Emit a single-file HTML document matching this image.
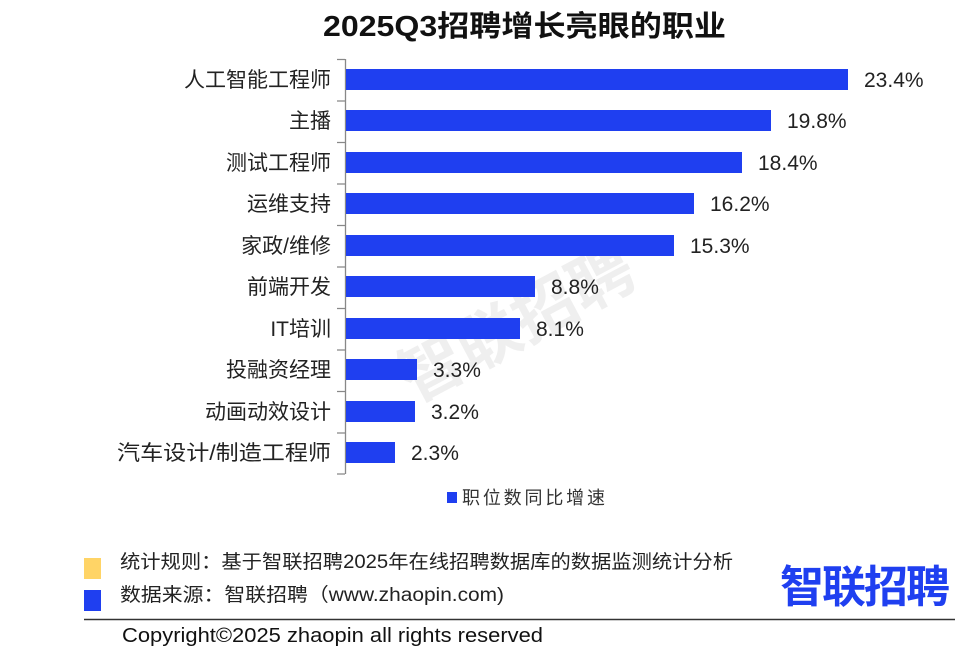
<!DOCTYPE html>
<html><head><meta charset="utf-8"><style>
body{margin:0;background:#fff;width:973px;height:658px;overflow:hidden;position:relative;font-family:"Liberation Sans","Noto Sans CJK SC",sans-serif;color:#222}
</style></head><body>
<svg width="973" height="658" style="position:absolute;left:0;top:0" font-family="Liberation Sans, Noto Sans CJK SC, sans-serif">
<text x="323" y="36" font-size="29" font-weight="bold" fill="#111" textLength="403" lengthAdjust="spacingAndGlyphs">2025Q3招聘增长亮眼的职业</text>
<text x="520" y="345" font-size="64" font-weight="bold" fill="#000" opacity="0.06" transform="rotate(-28 520 330)" text-anchor="middle">智联招聘</text>
<g stroke="#888" stroke-width="1.3" fill="none">
<path d="M345.5 59V474"/>
<path d="M337 59.5H345M337 101H345M337 142.5H345M337 184H345M337 225.5H345M337 267H345M337 308.5H345M337 350H345M337 391.5H345M337 433H345M337 474H345"/>
</g>
<g fill="#1f3ff0">
<rect x="346" y="69" width="502" height="21"/>
<rect x="346" y="110" width="425" height="21"/>
<rect x="346" y="152" width="396" height="21"/>
<rect x="346" y="193" width="348" height="21"/>
<rect x="346" y="235" width="328" height="21"/>
<rect x="346" y="276" width="189" height="21"/>
<rect x="346" y="318" width="174" height="21"/>
<rect x="346" y="359" width="71" height="21"/>
<rect x="346" y="401" width="69" height="21"/>
<rect x="346" y="442" width="49" height="21"/>
</g>
<g font-size="21" fill="#222" text-anchor="end">
<text x="331" y="87">人工智能工程师</text>
<text x="331" y="128">主播</text>
<text x="331" y="170">测试工程师</text>
<text x="331" y="211">运维支持</text>
<text x="331" y="253">家政/维修</text>
<text x="331" y="294">前端开发</text>
<text x="331" y="336">IT培训</text>
<text x="331" y="377">投融资经理</text>
<text x="331" y="419">动画动效设计</text>
<text x="331" y="460" textLength="214" lengthAdjust="spacingAndGlyphs">汽车设计/制造工程师</text>
</g>
<g font-size="21" fill="#222">
<text x="864" y="87">23.4%</text>
<text x="787" y="128">19.8%</text>
<text x="758" y="170">18.4%</text>
<text x="710" y="211">16.2%</text>
<text x="690" y="253">15.3%</text>
<text x="551" y="294">8.8%</text>
<text x="536" y="336">8.1%</text>
<text x="433" y="377">3.3%</text>
<text x="431" y="419">3.2%</text>
<text x="411" y="460">2.3%</text>
</g>
<rect x="447" y="492" width="10" height="11" fill="#1f3ff0"/>
<text x="462" y="504" font-size="18" fill="#333" textLength="143">职位数同比增速</text>
<rect x="84" y="558" width="17" height="21" fill="#ffd466"/>
<rect x="84" y="590" width="17" height="21" fill="#1f3ff0"/>
<text x="120" y="568" font-size="19" fill="#222" textLength="613" lengthAdjust="spacingAndGlyphs">统计规则：基于智联招聘2025年在线招聘数据库的数据监测统计分析</text>
<text x="120" y="601" font-size="19" fill="#222" textLength="384" lengthAdjust="spacingAndGlyphs">数据来源：智联招聘（www.zhaopin.com)</text>
<text x="780" y="602" font-size="44" font-weight="bold" fill="#1f3ff0" textLength="170">智联招聘</text>
<path d="M84 619.5H955" stroke="#333" stroke-width="1.5"/>
<text x="122" y="642" font-size="20" fill="#111" textLength="421" lengthAdjust="spacingAndGlyphs">Copyright©2025 zhaopin all rights reserved</text>
</svg>
</body></html>
